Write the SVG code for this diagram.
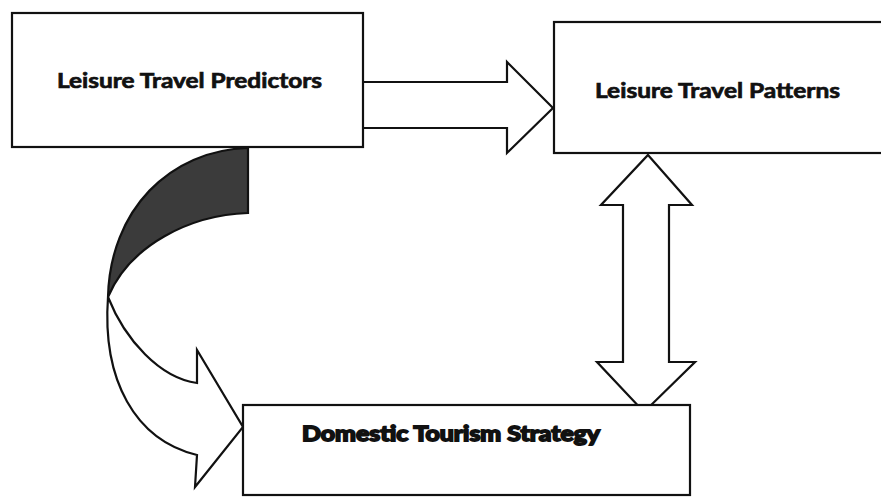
<svg xmlns="http://www.w3.org/2000/svg" width="881" height="499" viewBox="0 0 881 499">
<style>
.box{fill:#fff;stroke:#111;stroke-width:2.2}
.arr{fill:#fff;stroke:#111;stroke-width:2.2;stroke-linejoin:miter}
.lbl{font-family:Lato,"Open Sans","Liberation Sans",sans-serif;font-weight:700;font-size:21px;fill:#111;stroke:#111;stroke-width:0.7}
.heavy{stroke-width:1.8}
</style>
<rect width="881" height="499" fill="#fff"/>
<g id="connectors">
<path class="arr" d="M363,82 L507,82 L507,62 L553,108 L507,153 L507,128 L363,128"/>
<path class="arr" d="M648,155 L692,205 L669,205 L669,362 L695,362 L644,412 L597,362 L623,362 L623,205 L601,205 Z"/>
<path d="M248,148 C170,150 110,210 108,297 C130,245 190,215 248,213 Z" fill="#3b3b3b" stroke="#111" stroke-width="2.2"/>
<path class="arr" d="M108,297 C125,340 160,378 197,383 L197,350 L243,427 L195,487 L197,455 C135,440 102,380 108,297 Z"/>
</g>
<g id="n1">
<rect class="box" x="12" y="13" width="351" height="134"/>
<text class="lbl" x="57" y="88" textLength="265" lengthAdjust="spacingAndGlyphs">Leisure Travel Predictors</text>
</g>
<g id="n2">
<rect class="box" x="554" y="22" width="335" height="131"/>
<text class="lbl" x="595" y="98" textLength="245" lengthAdjust="spacingAndGlyphs">Leisure Travel Patterns</text>
</g>
<g id="n3">
<rect class="box" x="243" y="405" width="447" height="90"/>
<text class="lbl heavy" x="302" y="441" textLength="298" lengthAdjust="spacingAndGlyphs">Domestic Tourism Strategy</text>
</g>
</svg>
